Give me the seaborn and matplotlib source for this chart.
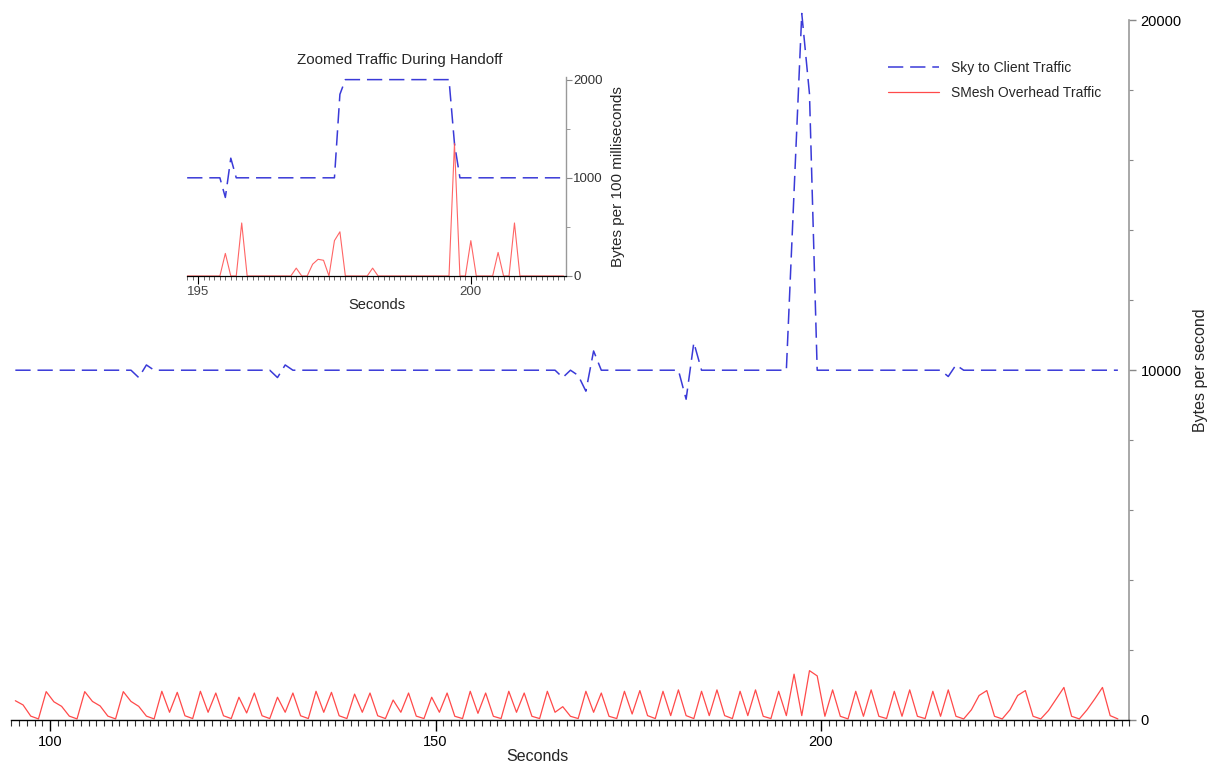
import numpy as np
import pandas as pd
import matplotlib.pyplot as plt
import seaborn as sns
from matplotlib.ticker import MultipleLocator, FixedLocator

sns.set_style("white")
plt.rcParams['font.family'] = ['Liberation Sans', 'DejaVu Sans']

# main chart: bytes per second, samples every second
overhead_t = np.arange(95.5, 239.0, 1.0)
overhead_bps = [
    550, 430, 110, 30, 810,
    520, 390, 110, 30, 810,
    530, 400, 110, 30, 810,
    530, 390, 110, 30, 820,
    220, 790, 120, 40, 820,
    220, 770, 120, 40, 650,
    200, 770, 120, 40, 650,
    220, 770, 120, 40, 820,
    220, 790, 120, 40, 740,
    220, 770, 120, 40, 570,
    220, 770, 110, 40, 650,
    220, 770, 105, 40, 820,
    190, 770, 105, 40, 820,
    220, 770, 105, 40, 820,
    220, 380, 105, 40, 820,
    220, 770, 105, 40, 820,
    170, 840, 124, 40, 820,
    124, 860, 124, 40, 820,
    124, 860, 124, 40, 820,
    124, 860, 105, 40, 820,
    124, 1310, 124, 1410, 1260,
    105, 860, 105, 30, 820,
    105, 860, 105, 40, 820,
    105, 860, 105, 40, 820,
    105, 860, 105, 30, 290,
    700, 840, 105, 30, 290,
    700, 840, 105, 30, 270,
    600, 930, 105, 30, 290,
    600, 930, 124, 30,
]

client_t = [95.5, 110.5, 111.5, 112.5, 113.5, 128.5, 129.5, 130.5, 131.5,
            165.5, 166.5, 167.5, 168.5, 169.5, 170.5, 171.5,
            181.5, 182.5, 183.5, 184.5,
            195.5, 196.5, 197.5, 198.5, 199.5,
            215.5, 216.5, 217.5, 218.5, 238.5]
client_bps = [10000, 10000, 9790, 10150, 10000, 10000, 9790, 10150, 10000,
              10000, 9790, 10000, 9850, 9400, 10550, 10000,
              10000, 9170, 10790, 10000,
              10000, 15100, 20200, 17900, 10000,
              10000, 9820, 10150, 10000, 10000]

# inset: bytes per 100 ms around the handoff
zoom_t = np.round(np.arange(194.8, 201.75, 0.1), 1)
zoom_client = [
    1000, 1000, 1000, 1000, 1000, 1000, 1000, 800, 1200, 1000,   # 194.8-195.7
    1000, 1000, 1000, 1000, 1000, 1000, 1000, 1000, 1000, 1000,  # 195.8-196.7
    1000, 1000, 1000, 1000, 1000, 1000, 1000, 1000, 1850, 2000,  # 196.8-197.7
    2000, 2000, 2000, 2000, 2000, 2000, 2000, 2000, 2000, 2000,  # 197.8-198.7
    2000, 2000, 2000, 2000, 2000, 2000, 2000, 2000, 2000, 1350,  # 198.8-199.7
    1000, 1000, 1000, 1000, 1000, 1000, 1000, 1000, 1000, 1000,  # 199.8-200.7
    1000, 1000, 1000, 1000, 1000, 1000, 1000, 1000, 1000, 1000,  # 200.8-201.7
]
zoom_overhead = [
    0, 0, 0, 0, 0, 0, 0, 230, 0, 0,
    540, 0, 0, 0, 0, 0, 0, 0, 0, 0,
    80, 0, 0, 120, 170, 160, 0, 360, 450, 0,
    0, 0, 0, 0, 80, 0, 0, 0, 0, 0,
    0, 0, 0, 0, 0, 0, 0, 0, 0, 1350,
    0, 0, 360, 0, 0, 0, 0, 240, 0, 0,
    540, 0, 0, 0, 0, 0, 0, 0, 0, 0,
]

blue = '#3a3ad8'
red = '#ff4a4a'

fig = plt.figure(figsize=(12.09, 7.66), dpi=100)
ax = fig.add_axes([0.0095, 0.0601, 0.9247, 0.9132])

sns.lineplot(x=client_t, y=client_bps, ax=ax, color=blue, lw=1.1,
             linestyle=(0, (10, 4.5)), label='Sky to Client Traffic', clip_on=False)
sns.lineplot(x=overhead_t, y=overhead_bps, ax=ax, color=red, lw=0.9,
             label='SMesh Overhead Traffic')

ax.set_xlim(95, 240)
ax.set_ylim(0, 20000)
ax.xaxis.set_major_locator(FixedLocator([100, 150, 200]))
ax.xaxis.set_minor_locator(MultipleLocator(1))
ax.yaxis.set_major_locator(FixedLocator([0, 10000, 20000]))
ax.yaxis.set_minor_locator(MultipleLocator(2000))
ax.yaxis.tick_right()
ax.yaxis.set_label_position('right')
ax.tick_params(axis='x', which='both', bottom=True, top=False)
ax.tick_params(axis='y', which='both', right=True, left=False)
ax.tick_params(axis='x', which='major', length=8, width=1, pad=3, labelsize=10.5, colors='black')
ax.tick_params(axis='x', which='minor', length=4, width=0.8, color='#333333')
ax.tick_params(axis='y', which='major', length=5, width=1, pad=3, labelsize=10.5,
               color='#888888', labelcolor='black')
ax.tick_params(axis='y', which='minor', length=3, width=0.8, color='#888888')
for s in ['left', 'top']:
    ax.spines[s].set_visible(False)
ax.spines['bottom'].set_color('black')
ax.spines['bottom'].set_linewidth(1)
ax.spines['right'].set_color('#999999')
ax.spines['right'].set_linewidth(1.2)
ax.set_xlabel('Seconds', fontsize=11.5)
ax.xaxis.set_label_coords(0.47, -0.041)
ax.set_ylabel('Bytes per second', fontsize=11.5, labelpad=8)
ax.legend(loc='upper left', bbox_to_anchor=(0.7345, 0.92), bbox_transform=fig.transFigure,
          frameon=False, fontsize=10, handlelength=3.7, handletextpad=0.8,
          labelspacing=0.75, borderpad=0, borderaxespad=0)

# inset
ins = fig.add_axes([0.1548, 0.6397, 0.3136, 0.2602])
ins.set_facecolor('white')
sns.lineplot(x=zoom_t, y=zoom_client, ax=ins, color=blue, lw=1.1,
             linestyle=(0, (10, 4.5)), legend=False)
sns.lineplot(x=zoom_t, y=zoom_overhead, ax=ins, color=red, lw=0.8, alpha=0.85, legend=False)
ins.set_xlim(194.8, 201.75)
ins.set_ylim(0, 2030)
ins.xaxis.set_major_locator(FixedLocator([195, 200]))
ins.xaxis.set_minor_locator(MultipleLocator(0.1))
ins.yaxis.set_major_locator(FixedLocator([0, 1000, 2000]))
ins.yaxis.set_minor_locator(FixedLocator([500, 1500]))
ins.yaxis.tick_right()
ins.yaxis.set_label_position('right')
ins.tick_params(axis='x', which='both', bottom=True, top=False)
ins.tick_params(axis='y', which='both', right=True, left=False)
ins.tick_params(axis='x', which='major', length=6, width=0.8, pad=1, labelsize=9.5,
                color='black', labelcolor='#444444')
ins.tick_params(axis='x', which='minor', length=3, width=0.6, color='#555555')
ins.tick_params(axis='y', which='major', length=4, width=0.8, pad=1, labelsize=9.5,
                color='#888888', labelcolor='#333333')
ins.tick_params(axis='y', which='minor', length=3, width=0.6, color='#888888')
for s in ['left', 'top']:
    ins.spines[s].set_visible(False)
ins.spines['bottom'].set_color('black')
ins.spines['bottom'].set_linewidth(0.9)
ins.spines['right'].set_color('#999999')
ins.spines['right'].set_linewidth(1)
ins.set_title('Zoomed Traffic During Handoff', fontsize=10.8, x=0.56, pad=9)
ins.set_xlabel('Seconds', fontsize=10.5, labelpad=0)
ins.set_ylabel('Bytes per 100 milliseconds', fontsize=11, labelpad=6)

fig.savefig('out.png', dpi=100)
